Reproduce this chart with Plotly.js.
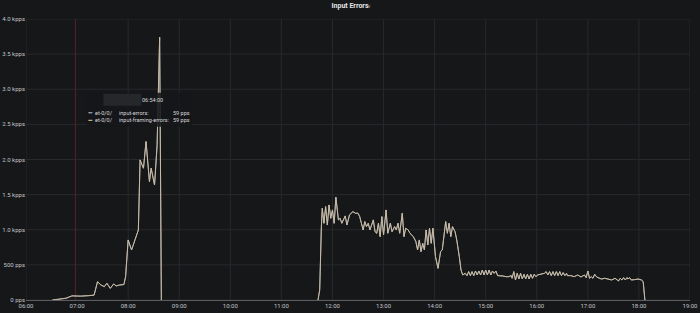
<!DOCTYPE html>
<html>
<head>
<meta charset="utf-8">
<script src="https://cdn.plot.ly/plotly-3.0.1.min.js"></script>
<style>html,body{margin:0;padding:0;background:#161719;}#chart{width:700px;height:313px;}</style>
</head>
<body>
<div id="chart"></div>
<script>
// ---- data ----
const day = "2021-01-01 ";
const times = [
 "06:31","06:38","06:47","06:54","07:04","07:14","07:20","07:24","07:28","07:32","07:35","07:39","07:43","07:46","07:50","07:55","07:57",
 "08:00","08:04","08:08","08:12","08:14","08:18","08:21","08:25","08:27","08:31","08:34","08:37","08:39",
 "10:00",
 "11:43","11:45","11:47","11:48","11:50","11:52","11:54","11:56","11:58","12:00","12:02","12:04","12:07","12:09","12:11","12:13","12:15","12:17","12:20","12:24","12:27","12:30","12:32","12:34","12:36","12:38","12:40","12:42","12:44","12:46","12:48","12:50","12:52","12:54","12:56","12:58",
 "13:00","13:03","13:05","13:08","13:10","13:13","13:15","13:17","13:19","13:22","13:24","13:26","13:29","13:31","13:35","13:38","13:40","13:42","13:44","13:46","13:48","13:50","13:52","13:54","13:56","13:58",
 "14:00","14:01","14:04","14:07","14:09","14:11","14:13","14:15","14:17","14:19","14:21","14:24","14:26","14:29","14:31","14:33","14:36","14:38","14:40","14:42","14:44","14:46","14:48","14:50","14:52","14:54","14:56","14:58",
 "15:00","15:02","15:04","15:06","15:08","15:10","15:12","15:14","15:16","15:20","15:24","15:27","15:30","15:31","15:33","15:35","15:37","15:39","15:41","15:43","15:45","15:47","15:49","15:51","15:53","15:55","15:57","15:59",
 "16:01","16:05","16:09","16:11","16:13","16:15","16:17","16:19","16:21","16:23","16:25","16:27","16:29","16:31","16:33","16:35","16:36","16:40","16:44","16:48","16:52","16:56","16:58",
 "17:00","17:02","17:04","17:06","17:08","17:10","17:12","17:16","17:20","17:24","17:28","17:32","17:36","17:38","17:40","17:42","17:44","17:46","17:47","17:49","17:51","17:55","17:59",
 "18:03","18:05","18:07"
];
const inputErrors = [
 0,10,25,59,55,62,70,260,214,190,238,166,228,200,214,220,332,
 855,712,855,997,1994,1876,2255,1686,1876,1638,2200,3740,0,
 null,
 0,142,1044,1306,1092,1330,1068,1353,1163,1282,1092,1463,1140,1163,1092,1140,1197,1068,1211,1258,1235,1235,1187,1092,997,1116,1044,1092,997,1068,1140,973,950,1092,902,1187,
 926,1282,950,1092,973,1044,997,1092,950,1235,902,1021,997,950,902,831,712,855,688,807,712,997,783,1021,807,1021,
 760,617,451,688,712,902,1116,950,1092,902,1044,973,855,617,427,356,380,347,404,347,404,347,413,356,413,356,427,356,
 427,356,427,356,413,380,413,347,347,342,332,332,347,309,404,285,380,299,380,299,366,299,366,299,366,309,366,332,
 356,366,380,404,356,404,347,404,347,404,347,404,347,390,347,380,347,347,332,356,328,356,318,
 413,309,332,309,366,332,318,299,309,299,285,309,271,309,285,318,285,318,299,318,285,290,299,
 285,261,0
];
const inputFramingErrors = inputErrors.slice();
const seriesNames = ["et-0/0/  input-errors", "et-0/0/  input-framing-errors"];
const xTickHours = ["06:00","07:00","08:00","09:00","10:00","11:00","12:00","13:00","14:00","15:00","16:00","17:00","18:00","19:00"];
const yTickVals = [0,500,1000,1500,2000,2500,3000,3500,4000];
const yTickText = ["0 pps","500 pps","1.0 kpps","1.5 kpps","2.0 kpps","2.5 kpps","3.0 kpps","3.5 kpps","4.0 kpps"];
const hoverTime = "06:54:00";
const hoverValues = ["59 pps","59 pps"];
const markerTime = "06:58";

// ---- layout geometry ----
const L = 25.5, R = 9.5, T = 19.3, Bm = 13;
const W = 700 - L - R, H = 313 - T - Bm;
const px = x => (x - L) / W;
const py = y => (313 - Bm - y) / H;

const xs = times.map(t => day + t);
const font = "Roboto, 'Open Sans', sans-serif";
const gridCol = "#28292d";
const traces = [
  {x: xs, y: inputErrors, name: seriesNames[0], type: "scatter", mode: "lines",
   line: {color: "#b9bcc0", width: 0.9}, connectgaps: false, hoverinfo: "skip"},
  {x: xs, y: inputFramingErrors, name: seriesNames[1], type: "scatter", mode: "lines",
   line: {color: "#c9bba1", width: 0.9}, connectgaps: false, hoverinfo: "skip"}
];

const tipFont = {family: font, size: 5.5, color: "#d8d9da"};
const shapes = [];
// vertical gridlines (the 07:00 one sits right next to the annotation marker line)
xTickHours.filter(h => h !== "07:00").forEach(h => shapes.push({type: "line", xref: "x", yref: "paper", x0: day + h, x1: day + h, y0: 0, y1: 1,
  line: {color: gridCol, width: 1}, layer: "below"}));
yTickVals.forEach(v => shapes.push({type: "line", xref: "paper", yref: "y", x0: 0, x1: 1, y0: v, y1: v,
  line: {color: gridCol, width: 1}, layer: "below"}));
shapes.push(
  {type: "line", xref: "x", yref: "paper", x0: day + markerTime, x1: day + markerTime, y0: 0, y1: 1,
   line: {color: "#5a2226", width: 1}, layer: "below"},
  {type: "rect", xref: "paper", yref: "paper", x0: px(86), x1: px(192), y0: py(127), y1: py(93),
   fillcolor: "rgba(22,23,25,0.88)", line: {width: 0}, layer: "above"},
  {type: "rect", xref: "paper", yref: "paper", x0: px(103), x1: px(141), y0: py(106), y1: py(94),
   fillcolor: "#26272b", line: {width: 0}, layer: "above"},
  {type: "line", xref: "paper", yref: "paper", x0: px(88), x1: px(92), y0: py(113), y1: py(113),
   line: {color: "#c9ccd0", width: 1}, layer: "above"},
  {type: "line", xref: "paper", yref: "paper", x0: px(88), x1: px(92), y0: py(120.5), y1: py(120.5),
   line: {color: "#e8d49a", width: 1}, layer: "above"}
);

const layout = {
  width: 700, height: 313,
  margin: {l: L, r: R, t: T, b: Bm, pad: 0},
  paper_bgcolor: "#161719", plot_bgcolor: "#161719",
  showlegend: false, hovermode: false,
  title: {text: "<b>Input Errors</b>", x: 0.5, xanchor: "center", y: 0.982, yanchor: "middle",
          font: {family: font, size: 7, color: "#e3e4e6"}},
  xaxis: {type: "date", range: [day + "06:00", day + "19:00"], tickvals: xTickHours.map(h => day + h), ticktext: xTickHours,
          showgrid: false, showline: true, linecolor: "#5a5c60", linewidth: 1, ticks: "", ticklen: 0,
          tickfont: {family: font, size: 6, color: "#c0c4c8"}, zeroline: false, fixedrange: true},
  yaxis: {range: [0, 4000], tickvals: yTickVals, ticktext: yTickText, showgrid: false,
          zeroline: false, showline: false, ticks: "", ticklen: 0,
          tickfont: {family: font, size: 6, color: "#c0c4c8"}, fixedrange: true},
  shapes: shapes,
  annotations: [
    {xref: "paper", yref: "paper", x: px(366), y: py(6.5), text: "v", showarrow: false,
     xanchor: "left", yanchor: "middle", font: {family: font, size: 5, color: "#9fa3a8"}},
    {xref: "paper", yref: "paper", x: px(152), y: py(100), text: hoverTime, showarrow: false,
     xanchor: "center", yanchor: "middle", font: tipFont},
    {xref: "paper", yref: "paper", x: px(93), y: py(113), text: seriesNames[0].split("  ")[0], showarrow: false,
     xanchor: "left", yanchor: "middle", font: tipFont},
    {xref: "paper", yref: "paper", x: px(117), y: py(113), text: seriesNames[0].split("  ")[1] + ":", showarrow: false,
     xanchor: "left", yanchor: "middle", font: tipFont},
    {xref: "paper", yref: "paper", x: px(171), y: py(113), text: hoverValues[0], showarrow: false,
     xanchor: "left", yanchor: "middle", font: tipFont},
    {xref: "paper", yref: "paper", x: px(93), y: py(120.5), text: seriesNames[1].split("  ")[0], showarrow: false,
     xanchor: "left", yanchor: "middle", font: tipFont},
    {xref: "paper", yref: "paper", x: px(117), y: py(120.5), text: seriesNames[1].split("  ")[1] + ":", showarrow: false,
     xanchor: "left", yanchor: "middle", font: tipFont},
    {xref: "paper", yref: "paper", x: px(171), y: py(120.5), text: hoverValues[1], showarrow: false,
     xanchor: "left", yanchor: "middle", font: tipFont}
  ]
};
Plotly.newPlot("chart", traces, layout, {displayModeBar: false, staticPlot: true});
</script>
</body>
</html>
